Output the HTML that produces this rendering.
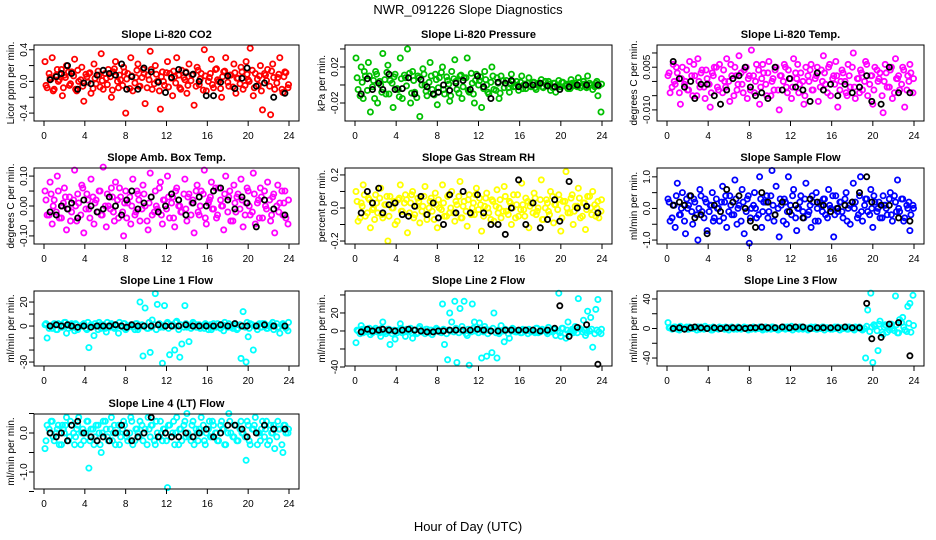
<!DOCTYPE html>
<html><head><meta charset="utf-8"><style>
html,body{margin:0;padding:0;background:#fff;}
svg{display:block;font-family:"Liberation Sans",Arial,sans-serif;}
</style></head><body>
<svg id="chart" width="936" height="540" viewBox="0 0 936 540" xmlns="http://www.w3.org/2000/svg">
<rect x="0" y="0" width="936" height="540" fill="#fff"/>
<text x="468" y="14" text-anchor="middle" font-size="13">NWR_091226  Slope Diagnostics</text>
<text x="468" y="531" text-anchor="middle" font-size="13">Hour of Day (UTC)</text>
</svg>
<script>
const hours=[0.1,0.3,0.6,0.8,1.0,1.3,1.5,1.8,2.0,2.2,2.5,2.7,3.0,3.2,3.4,3.7,3.9,4.2,4.4,4.6,4.9,5.1,5.4,5.6,5.8,6.1,6.3,6.6,6.8,7.0,7.3,7.5,7.8,8.0,8.2,8.5,8.7,9.0,9.2,9.4,9.7,9.9,10.2,10.4,10.6,10.9,11.1,11.4,11.6,11.8,12.1,12.3,12.6,12.8,13.0,13.3,13.5,13.8,14.0,14.2,14.5,14.7,15.0,15.2,15.4,15.7,15.9,16.2,16.4,16.6,16.9,17.1,17.4,17.6,17.8,18.1,18.3,18.6,18.8,19.0,19.3,19.5,19.8,20.0,20.2,20.5,20.7,21.0,21.2,21.4,21.7,21.9,22.2,22.4,22.6,22.9,23.1,23.4,23.6,23.9];
const hours2=[0.2,0.5,0.7,0.9,1.2,1.4,1.7,1.9,2.1,2.4,2.6,2.9,3.1,3.3,3.6,3.8,4.1,4.3,4.5,4.8,5.0,5.3,5.5,5.7,6.0,6.2,6.5,6.7,6.9,7.2,7.4,7.7,7.9,8.1,8.4,8.6,8.9,9.1,9.3,9.6,9.8,10.1,10.3,10.5,10.8,11.0,11.3,11.5,11.7,12.0,12.2,12.5,12.7,12.9,13.2,13.4,13.7,13.9,14.1,14.4,14.6,14.9,15.1,15.3,15.6,15.8,16.1,16.3,16.5,16.8,17.0,17.3,17.5,17.7,18.0,18.2,18.5,18.7,18.9,19.2,19.4,19.7,19.9,20.1,20.4,20.6,20.9,21.1,21.3,21.6,21.8,22.1,22.3,22.5,22.8,23.0,23.3,23.5,23.7,23.95];
const blackHours=[0.6,1.2,1.7,2.3,2.7,3.3,3.9,4.6,5.2,5.8,6.4,7.0,7.6,8.1,8.6,9.2,9.8,10.5,11.2,11.9,12.5,13.2,13.9,14.6,15.2,15.9,16.6,17.3,18.0,18.7,19.4,19.9,20.8,21.6,22.5,23.6];
const xTicks=[0,4,8,12,16,20,24];

const co2=[25,-8,5,30,-10,15,2,-18,8,20,-5,12,28,-12,0,18,-25,6,10,-15,22,-3,8,35,-10,4,15,-20,12,25,-8,2,18,-40,10,30,-12,5,22,-6,15,-28,8,38,-10,20,0,-35,12,-5,25,10,-18,6,30,-8,14,2,-15,22,8,-30,18,-4,10,40,-12,5,28,-8,16,0,-20,12,30,-6,8,22,-15,4,18,-10,25,2,42,-18,10,-5,20,-36,8,15,-42,22,-10,5,30,-14,12,-8];
const co2B=[-5,10,3,-12,8,0,15,-8,5,12,-3,7,-10,14,2,-6,9,-1,11,-9,4,13,-7,1,10,-4,6,-11,16,0,8,-5,12,3,-9,7,-2,14,-6,5,10,-8,2,15,-3,9,-12,6,0,11,-7,4,13,-2,8,-10,5,12,-5,1,9,-6,14,3,-11,7,0,10,-4,15,2,-9,6,13,-1,8,-7,11,4,-3,12,-5,9,0,14,-8,3,7,-12,10,1,-6,13,5,-2,9,-10,6,11,-4];
const co2Black=[2,6,10,20,10,-10,-2,-3,8,14,10,8,22,-10,6,-10,17,12,-1,-14,5,15,11,9,0,-18,-18,-1,7,-9,4,17,-6,-2,-20,-15];
const pressure=[30,-5,20,-15,10,25,-30,5,15,-20,0,35,-10,22,5,-25,12,-5,30,-15,8,40,-20,15,-8,10,-35,18,0,-12,25,-5,12,-22,8,20,-10,5,-18,15,28,-5,10,-15,8,30,-8,2,-20,12,5,-25,15,0,-10,20,-5,8,-15,10,-3,5,-8,12,-2,4,-6,10,0,-4,8,-2,3,-5,2,6,-3,0,4,-6,2,-8,5,-2,3,0,-4,6,-1,2,8,-3,4,-2,10,0,-5,2,-12,-30];
const pressureB=[8,-12,3,15,-6,10,-2,-15,12,4,-8,6,14,-10,2,9,-4,-13,7,11,-1,13,-9,5,-14,8,0,12,-7,3,10,-11,6,-3,14,-5,9,1,-12,7,4,-9,11,-2,8,-6,13,-10,5,0,9,-4,6,-8,3,10,-6,2,-9,5,2,-3,1,4,-2,0,3,-4,1,2,-1,3,-3,0,2,-2,4,-1,1,-3,2,0,-2,3,-1,1,-4,2,0,-2,3,-1,1,-3,2,0,-2,4,-1,1];
const pressureBlack=[-10,7,-5,2,-5,12,-5,-4,8,-10,6,-2,-10,-8,0,-6,2,5,-5,10,-2,-15,3,2,5,-2,0,0,2,-1,-2,-5,-2,0,0,0];
const temp=[2,-4,6,-1,3,-8,5,0,-3,7,-5,2,8,-2,4,-6,1,-9,3,5,-2,6,-4,0,8,-7,2,5,-3,9,-1,4,-6,2,11,-4,6,-8,1,3,-5,7,0,-3,5,-10,2,6,-2,4,-6,8,1,-4,3,-8,5,0,6,-3,2,-7,4,9,-1,5,-5,2,7,-9,0,3,-4,6,-2,10,-6,1,4,-3,7,-5,2,-8,5,0,3,-11,6,-2,4,-6,8,1,-3,5,-9,2,6,-4];
const tempB=[3,-2,0,5,-4,1,-1,4,-3,2,6,-5,0,3,-2,4,-1,-4,2,5,-3,1,4,-2,0,6,-5,2,-1,3,-4,5,1,-3,2,0,4,-2,6,-1,3,-5,1,4,-3,2,0,5,-4,1,-2,3,6,-1,0,-5,2,4,-3,1,5,-2,0,3,-4,6,1,-1,2,-3,4,0,-5,2,5,-2,1,-4,3,0,6,-1,2,-3,4,1,-5,0,3,-2,5,-4,1,2,-1,4,-3,0,3,1];
const tempBlack=[7,1,-2,0,-6,-1,-1,-5,-8,-3,1,2,5,-2,-5,-4,-6,5,-3,1,-2,-3,-7,3,-3,-1,-5,-1,-4,-2,2,-7,-8,5,-4,-4];
const ambTemp=[5,-3,8,-6,2,10,-4,0,6,-8,3,-2,12,-5,1,7,-9,4,-1,9,-6,2,5,-3,13,-7,0,6,-2,8,-4,3,-10,5,1,-6,9,-2,4,-5,7,0,-8,11,-3,5,-1,8,-6,2,10,-4,3,-7,6,0,-2,9,-5,4,1,-9,7,-3,5,12,-6,2,8,-1,-4,6,0,-8,10,3,-5,7,-2,4,9,-7,1,5,-3,11,-6,2,6,-4,0,8,-5,3,-9,7,1,-3,5,-6];
const ambTempB=[2,-3,4,0,-2,5,-4,1,3,-1,-5,2,0,4,-3,6,-1,2,-4,3,1,-2,5,-3,0,4,-1,3,-5,2,6,-2,1,-4,3,0,-3,5,2,-1,4,-5,1,3,-2,0,6,-3,2,-1,3,1,-4,5,0,-2,4,-1,3,-3,2,5,-2,0,4,-4,1,3,-1,6,-3,2,0,4,-2,5,-5,1,3,-1,2,-3,6,0,-2,4,1,-4,3,5,-1,2,-3,4,0,-2,5,1,-4,2];
const ambTempBlack=[-2,-3,0,-1,1,-4,2,0,-2,-1,3,0,-3,2,5,-1,1,3,-2,0,4,2,-3,1,3,0,5,6,2,-1,3,1,-7,2,-1,-3];
const rh=[10,-8,3,14,-5,6,-12,0,8,-3,12,-6,2,-20,7,0,-10,5,14,-2,8,-15,3,10,-4,6,-9,1,13,-7,4,-2,9,-12,0,14,-5,7,-3,10,-8,2,16,-6,4,-11,8,0,-4,12,6,-14,1,9,-3,5,-8,11,0,-6,13,-2,4,-10,8,2,-5,15,-1,6,-12,3,9,-4,0,17,-7,5,-2,10,-9,2,8,-14,4,22,-3,6,-10,1,12,-6,3,-13,7,0,10,-5,4,-2];
const rhB=[4,-6,1,8,-3,5,-1,-7,3,6,-4,2,7,-5,0,4,-8,6,-2,3,5,-3,8,-6,1,4,-2,7,-4,0,6,-7,2,5,-1,3,-5,8,0,-3,4,7,-6,1,-2,5,-4,3,8,-1,2,-5,6,0,-7,4,1,-3,5,-2,7,-4,3,0,-6,8,-1,2,-5,4,1,-3,6,-2,5,-7,0,3,-4,7,2,-1,5,-6,4,0,-3,8,-2,1,6,-5,3,-1,7,-4,2,0,-6,5];
const rhBlack=[-3,10,3,12,-3,2,3,-4,-5,1,7,-4,3,-6,-10,8,-3,10,-3,8,-3,-10,-10,-16,0,17,-10,3,-12,-7,5,-8,16,0,1,-3];
const sampleFlow=[3,-4,1,-6,8,-2,5,-8,0,4,-5,2,-10,6,-1,3,-7,1,5,-3,0,-4,7,2,-6,4,-2,9,-5,1,6,-8,3,-11,0,5,-3,10,-6,2,4,-1,12,-4,7,-9,1,3,-5,10,-2,6,-7,0,4,-3,8,-1,-6,2,5,-4,1,3,-2,6,0,-9,4,-1,2,-3,5,0,-5,8,2,-2,10,-4,3,-1,6,-6,2,0,-3,4,1,-2,5,-4,2,9,-1,3,-3,0,-7,1];
const sampleFlowB=[2,-3,1,4,-2,0,-4,3,1,-1,3,-2,0,4,-3,2,-1,1,-4,3,0,2,-3,4,-1,1,-2,3,0,-4,2,-1,4,-3,1,0,-2,3,-1,2,-3,4,1,-2,0,3,-4,2,-1,1,4,-3,0,2,-1,3,-2,1,4,-4,0,2,-1,3,-3,1,4,-2,0,2,-1,3,-4,1,2,0,-3,4,-1,1,3,-2,0,4,-1,2,-3,1,0,3,-2,4,-1,0,3,-4,1,2,-2,0];
const sampleFlowBlack=[1,2,1,4,-3,-2,-8,1,-1,6,2,4,0,-4,-6,5,2,-2,2,-1,1,-3,3,2,1,-1,0,1,2,5,10,2,1,1,-3,-4];
const line1=[1,-10,0,-2,2,-3,1,-1,3,-6,0,2,-4,1,-1,0,2,-3,-18,1,-8,0,3,-2,1,-5,0,2,-1,1,-6,0,2,-3,0,1,-1,2,-3,20,-25,15,-2,-22,5,27,18,-1,-31,17,3,-24,0,-20,4,-26,-15,17,-1,-13,0,2,-1,1,0,-2,1,0,-3,2,-1,0,1,-4,0,2,-1,0,1,-2,-27,12,-30,-9,2,-20,0,1,-1,2,0,-2,1,3,0,-1,-6,2,0,-4];
const line1B=[2,-2,0,1,-3,2,-1,0,3,-2,1,-1,2,-3,0,1,-2,3,-1,0,2,-3,1,0,-2,3,-1,1,-2,0,3,-1,2,-2,0,1,-3,2,-1,1,0,-2,3,-1,1,-3,2,0,-1,2,-2,1,0,3,-3,1,-1,2,0,-2,3,-1,1,-2,0,2,-3,1,-1,0,2,-2,1,3,-1,0,-2,2,-3,1,0,-1,3,-2,1,0,-3,2,-1,2,-2,0,1,-3,2,-1,1,0,-2,3];
const line1Black=[0,1,0,1,0,-1,0,-1,0,0,0,1,0,-1,1,0,0,0,1,0,0,0,1,0,0,0,0,1,0,2,0,0,0,1,0,0];
const line2=[-13,0,6,-2,2,0,-4,1,3,-1,-6,10,-3,2,-15,0,-9,1,8,-2,-6,0,3,-8,1,-2,5,0,-3,2,1,-4,0,2,-1,30,-15,-32,20,10,33,-35,25,5,33,-5,-38,30,10,2,9,-30,5,-28,1,-24,20,-30,-3,6,-12,1,-8,0,2,-1,0,-2,1,0,2,-1,0,3,-2,0,1,-1,4,0,2,-5,42,-6,3,-8,10,0,-2,5,36,2,12,-5,22,15,-18,24,35,-3];
const line2B=[1,-3,2,0,-1,3,-2,1,0,-2,3,-1,0,2,-3,1,-2,0,3,-1,2,0,-2,1,-3,3,-1,0,2,-2,1,-1,3,0,-2,2,-3,1,0,-1,3,-2,1,0,-3,2,-1,3,0,-2,1,-1,2,-3,0,3,-2,1,-1,0,2,-3,1,3,-1,0,-2,2,1,-3,0,1,-2,3,-1,2,0,-3,1,-1,2,0,-2,3,-3,1,-1,2,0,-2,3,-1,1,-2,0,2,-3,1,-1,2];
const line2Black=[-1,2,0,1,2,1,0,1,2,1,0,-1,-1,0,0,1,1,1,1,2,1,0,0,1,1,1,1,1,0,1,3,28,-6,4,7,-37];
const line3=[8,1,0,2,-1,3,0,1,-1,2,0,1,2,-1,0,3,1,0,-2,1,0,2,1,-1,0,1,2,0,-1,1,0,2,1,0,-1,1,0,2,1,0,-1,1,2,0,1,-1,0,2,1,0,3,1,0,-1,2,1,0,1,2,0,-1,1,0,2,1,0,-1,1,0,2,1,0,2,-1,1,0,2,1,0,-2,-40,25,48,-46,3,-30,10,-8,5,-5,2,0,44,-6,12,15,-2,30,34,45];
const line3B=[1,-1,2,0,-2,1,0,2,-1,1,0,-2,1,2,-1,0,1,-2,2,0,-1,1,0,2,-2,1,-1,0,2,-1,1,0,-2,1,2,-1,0,1,-2,2,0,-1,2,1,-2,0,1,-1,2,0,-2,1,0,2,-1,1,-2,0,1,2,-1,0,2,-2,1,0,-1,2,1,-2,0,1,-1,2,0,-2,1,2,-1,0,3,-4,2,5,-3,6,-5,2,4,-2,6,-3,5,-6,8,2,-4,7,-5,4];
const line3Black=[0,1,-1,1,2,1,0,1,0,1,1,1,0,1,1,2,1,1,2,1,2,2,0,1,1,1,1,2,1,1,34,-14,-12,6,8,-37];
const line4=[-4,2,0,3,-2,1,-3,2,0,4,-1,2,-3,1,4,0,-2,3,-9,1,-3,2,0,-5,3,1,-2,4,0,-3,2,-1,3,0,-2,4,-3,1,0,3,-2,1,4,-1,2,-3,0,3,-2,1,-14,2,0,-3,4,1,-2,3,5,-1,2,-3,0,1,4,-2,0,3,-1,2,0,-2,3,1,-3,5,0,-1,2,-2,3,0,-7,2,-3,1,4,0,-2,3,1,-3,2,0,-4,3,1,-5,2,0];
const line4B=[-2,1,3,-1,0,2,-3,1,2,-2,3,0,-1,2,-3,1,0,3,-2,1,-1,2,-3,0,3,-1,1,-2,2,0,-3,1,2,-1,0,3,-2,1,-1,2,0,-3,1,2,-2,3,-1,0,1,-2,2,-1,3,0,-3,1,2,-1,0,-2,3,1,-2,0,2,-3,1,-1,3,0,-2,2,1,-3,0,3,-1,2,-2,1,0,-1,3,-2,1,2,-3,0,1,-1,3,-2,0,2,-1,1,-3,2,0,1];
const line4Black=[0,-1,0,-2,2,3,0,-1,-2,-1,-2,0,2,0,-2,-1,0,4,-1,0,-1,-1,0,-1,0,1,-1,0,2,2,1,-1,0,2,1,1];

const co2Ticks=[-0.4,-0.2,0,0.2,0.4], co2Labels=["-0.4","","0.0","","0.4"];
const pressureTicks=[-0.02,0,0.02,0.04], pressureLabels=["-0.02","","0.02",""];
const tempTicks=[-0.010,-0.005,0,0.005,0.010], tempLabels=["-0.010","","","0.005",""];
const ambTicks=[-0.10,-0.05,0,0.05,0.10], ambLabels=["-0.10","","0.00","","0.10"];
const rhTicks=[-0.2,-0.1,0,0.1,0.2], rhLabels=["-0.2","","0.0","","0.2"];
const sampleTicks=[-1,-0.5,0,0.5,1], sampleLabels=["-1.0","","0.0","","1.0"];
const line1Ticks=[-30,-20,-10,0,10,20], line1Labels=["-30","","","0","","20"];
const line2Ticks=[-40,-20,0,20,40], line2Labels=["-40","","0","20",""];
const line3Ticks=[-40,-20,0,20,40], line3Labels=["-40","","0","","40"];
const line4Ticks=[-1.5,-1,-0.5,0,0.5], line4Labels=["","-1.0","","0.0",""];

const NS="http://www.w3.org/2000/svg";
const svg=document.getElementById('chart');
const colL=[34,345,657], colW=[265,267,267];
const rowT=[45,168,291,414], rowB=[121,244,366,489];
function mk(tag,attrs,parent){const e=document.createElementNS(NS,tag);for(const k in attrs)e.setAttribute(k,attrs[k]);(parent||svg).appendChild(e);return e;}

const panels=[
 {key:'co2',title:'Slope Li-820 CO2',ylab:'Licor ppm per min.',c:0,r:0,ylo:-0.50,yhi:0.46,unit:0.01,col:'#ff0000',y:co2,y2:co2B,yb:co2Black,ticks:co2Ticks,labels:co2Labels},
 {key:'pressure',title:'Slope Li-820 Pressure',ylab:'kPa per min.',c:1,r:0,ylo:-0.040,yhi:0.0444,unit:0.001,col:'#00c000',y:pressure,y2:pressureB,yb:pressureBlack,ticks:pressureTicks,labels:pressureLabels},
 {key:'temp',title:'Slope Li-820 Temp.',ylab:'degrees C per min.',c:2,r:0,ylo:-0.0139,yhi:0.0128,unit:0.001,col:'#ff00ff',y:temp,y2:tempB,yb:tempBlack,ticks:tempTicks,labels:tempLabels},
 {key:'amb-temp',title:'Slope Amb. Box Temp.',ylab:'degrees C per min.',c:0,r:1,ylo:-0.127,yhi:0.127,unit:0.01,col:'#ff00ff',y:ambTemp,y2:ambTempB,yb:ambTempBlack,ticks:ambTicks,labels:ambLabels},
 {key:'rh',title:'Slope Gas Stream RH',ylab:'percent per min.',c:1,r:1,ylo:-0.218,yhi:0.242,unit:0.01,col:'#ffff00',y:rh,y2:rhB,yb:rhBlack,ticks:rhTicks,labels:rhLabels},
 {key:'sample-flow',title:'Slope Sample Flow',ylab:'ml/min per min.',c:2,r:1,ylo:-1.125,yhi:1.28,unit:0.1,col:'#0000ff',y:sampleFlow,y2:sampleFlowB,yb:sampleFlowBlack,ticks:sampleTicks,labels:sampleLabels},
 {key:'line1',title:'Slope Line 1 Flow',ylab:'ml/min per min.',c:0,r:2,ylo:-33.3,yhi:29.2,unit:1,col:'#00ffff',y:line1,y2:line1B,yb:line1Black,ticks:line1Ticks,labels:line1Labels},
 {key:'line2',title:'Slope Line 2 Flow',ylab:'ml/min per min.',c:1,r:2,ylo:-38.9,yhi:44.4,unit:1,col:'#00ffff',y:line2,y2:line2B,yb:line2Black,ticks:line2Ticks,labels:line2Labels},
 {key:'line3',title:'Slope Line 3 Flow',ylab:'ml/min per min.',c:2,r:2,ylo:-50.8,yhi:50.8,unit:1,col:'#00ffff',y:line3,y2:line3B,yb:line3Black,ticks:line3Ticks,labels:line3Labels},
 {key:'line4',title:'Slope Line 4 (LT) Flow',ylab:'ml/min per min.',c:0,r:3,ylo:-1.436,yhi:0.487,unit:0.1,col:'#00ffff',y:line4,y2:line4B,yb:line4Black,ticks:line4Ticks,labels:line4Labels}
];

panels.forEach(p=>{
  const L=colL[p.c], W=colW[p.c], T=rowT[p.r], B=rowB[p.r];
  const xs=v=>L+10+(v/24)*(W-20);
  const ys=v=>B-(v-p.ylo)/(p.yhi-p.ylo)*(B-T);
  const g=mk('g',{});
  
  
  const t=mk('text',{x:L+W/2,y:T-7,'text-anchor':'middle','font-size':11,'font-weight':'bold'},g);
  t.textContent=p.title;
  
  
  const yl=mk('text',{x:0,y:0,'text-anchor':'middle','font-size':10,transform:`translate(${L-20},${(T+B)/2}) rotate(-90)`},g);
  yl.textContent=p.ylab;
  
  
  const pg=mk('g',{fill:'none',stroke:p.col,'stroke-width':1.8},g);
  
  
  const n=Math.min(hours.length,p.y.length);
  for(let i=0;i<n;i++){
    const c=mk('circle',{cx:xs(hours[i]).toFixed(1),cy:ys(p.y[i]*p.unit).toFixed(1),r:2.6},pg);
    
    
  }
  const n2=Math.min(hours2.length,p.y2.length);
  for(let i=0;i<n2;i++){
    const c=mk('circle',{cx:xs(hours2[i]).toFixed(1),cy:ys(p.y2[i]*p.unit).toFixed(1),r:2.6},pg);
    
    
  }
  const bg=mk('g',{fill:'none',stroke:'#000','stroke-width':1.8},g);
  
  
  const m=Math.min(blackHours.length,p.yb.length);
  for(let i=0;i<m;i++){
    const c=mk('circle',{cx:xs(blackHours[i]).toFixed(1),cy:ys(p.yb[i]*p.unit).toFixed(1),r:2.6},bg);
    
    
  }
  const box=mk('rect',{x:L,y:T,width:W,height:B-T,fill:'none',stroke:'#000','stroke-width':1},g);
  
  
  xTicks.forEach(v=>{
    const x=xs(v);
    mk('line',{x1:x,x2:x,y1:B,y2:B+5,stroke:'#000'},g);
    const tl=mk('text',{x:x,y:B+18,'text-anchor':'middle','font-size':10},g);
    tl.textContent=String(v);
    
    
  });
  p.ticks.forEach((v,i)=>{
    const y=ys(v);
    mk('line',{x1:L-5,x2:L,y1:y,y2:y,stroke:'#000'},g);
    if(p.labels[i]){
      const tl=mk('text',{x:0,y:0,'text-anchor':'middle','font-size':10,transform:`translate(${L-7},${y}) rotate(-90)`},g);
      tl.textContent=p.labels[i];
      
      
    }
  });
});
</script>
</body></html>
